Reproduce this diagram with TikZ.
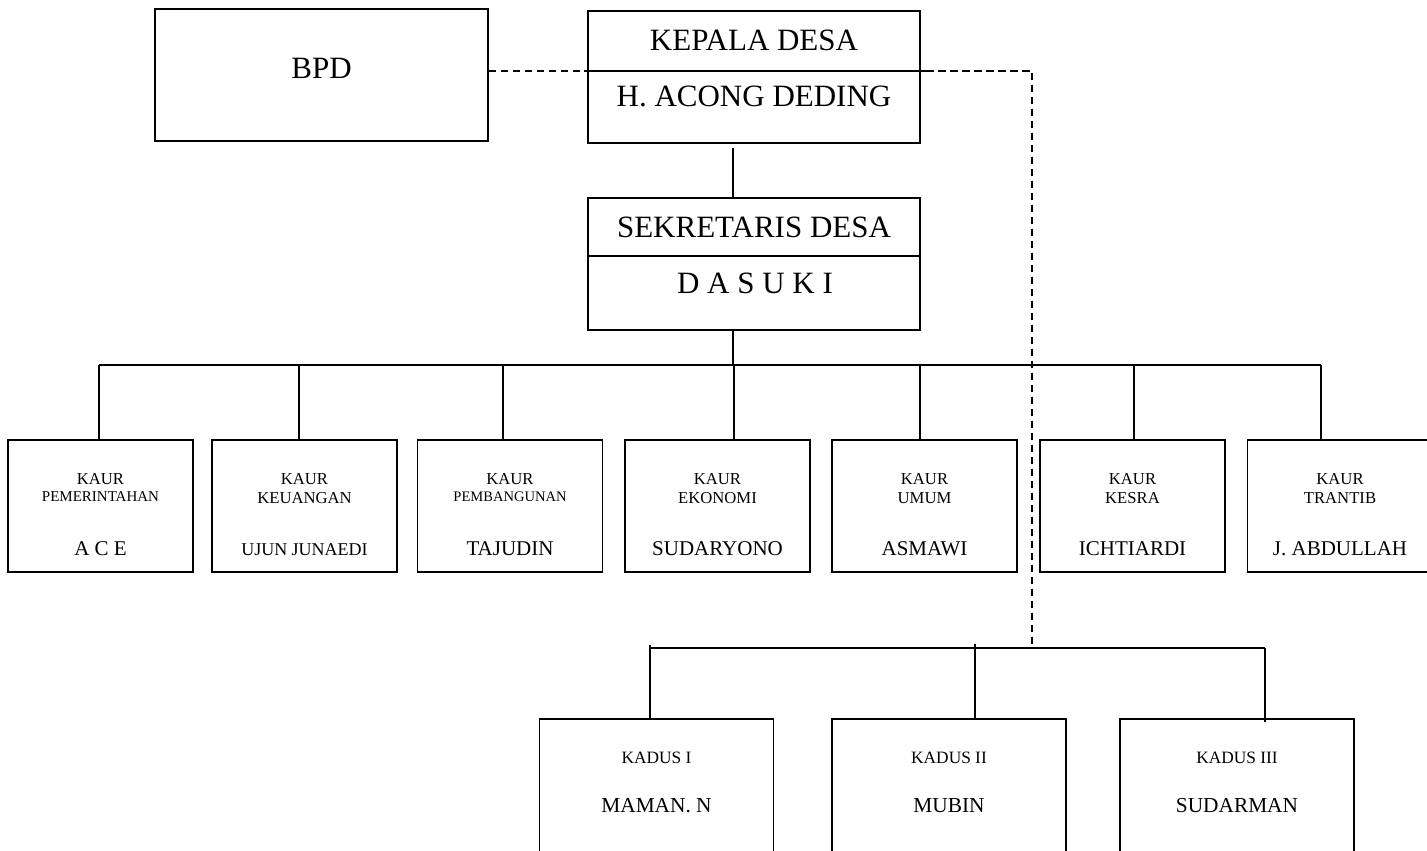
\documentclass[tikz,border=0pt]{standalone}
\usepackage{fontspec}
\setmainfont{Liberation Serif}
\newcommand{\setfs}[1]{\fontsize{#1pt}{#1pt}\selectfont}
\begin{document}
\begin{tikzpicture}[x=0.75pt,y=-0.75pt,
  box/.style={draw, line width=1.4pt, inner sep=0pt, minimum height=99pt},
  bigbox/.style={box, minimum width=249pt},
  kaurbox/.style={box, minimum width=138.75pt},
  kadusbox/.style={box, minimum width=175.5pt, minimum height=120pt},
  conn/.style={line width=1.2pt},
  thinconn/.style={line width=0.9pt},
  dline/.style={line width=1.3pt, dash pattern=on 5.5pt off 3.5pt},
  txt/.style={anchor=base, inner sep=0pt},
  big/.style={txt, font=\setfs{23.25}},
  role/.style={txt, font=\setfs{12.5}},
  rolesm/.style={txt, font=\setfs{11.25}},
  nm/.style={txt, font=\setfs{15.75}},
  nmsm/.style={txt, font=\setfs{13.5}},
  kd/.style={txt, font=\setfs{13}},
  kdn/.style={txt, font=\setfs{16}}]
\useasboundingbox (0,0) rectangle (1427,850);
\fill[white] (0,0) rectangle (1427,850);
\clip (0,0) rectangle (1427,850);

% top boxes
\node[box, minimum width=249.75pt] (bpd) at (321.5,75) {};
\node[bigbox] (kepala) at (754,77) {};
\node[bigbox] (sek) at (754,264) {};
\coordinate (kdiv) at (754,70.7);
\coordinate (sdiv) at (754,255.7);
\draw[line width=1.4pt] ([xshift=-2pt]kepala.west |- kdiv) -- ([xshift=4pt]kepala.east |- kdiv);
\draw[line width=1.4pt] (sek.west |- sdiv) -- (sek.east |- sdiv);

\node[big] (tbpd) at (321.5,78) {BPD};
\node[big] (tkep) at (754,50.7) {KEPALA DESA};
\node[big] (tkepn) at (754,106) {H. ACONG DEDING};
\node[big] (tsek) at (754,237) {SEKRETARIS DESA};
\node[big] (tsekn) at (755,293) {D A S U K I};

% kaur boxes
\node[kaurbox] (k1) at (100.5,506) {};
\node[kaurbox] (k2) at (304.5,506) {};
\node[kaurbox] (k3) at (510,506) {};
\node[kaurbox] (k4) at (717.5,506) {};
\node[kaurbox] (k5) at (924.5,506) {};
\node[kaurbox] (k6) at (1132.5,506) {};
\node[kaurbox] (k7) at (1340,506) {};

\node[role] (k1a) at (100.5,484) {KAUR};
\node[rolesm] (k1b) at (100.5,501) {PEMERINTAHAN};
\node[nm] (k1c) at (100.5,555) {A C E};
\node[role] (k2a) at (304.5,484) {KAUR};
\node[role] (k2b) at (304.5,503) {KEUANGAN};
\node[nmsm] (k2c) at (304.5,555) {UJUN JUNAEDI};
\node[role] (k3a) at (510,484) {KAUR};
\node[txt, font=\setfs{10.9}] (k3b) at (510,501) {PEMBANGUNAN};
\node[nm] (k3c) at (510,555) {TAJUDIN};
\node[role] (k4a) at (717.5,484) {KAUR};
\node[role] (k4b) at (717.5,503) {EKONOMI};
\node[nm] (k4c) at (717.5,555) {SUDARYONO};
\node[role] (k5a) at (924.5,484) {KAUR};
\node[role] (k5b) at (924.5,503) {UMUM};
\node[nm] (k5c) at (924.5,555) {ASMAWI};
\node[role] (k6a) at (1132.5,484) {KAUR};
\node[role] (k6b) at (1132.5,503) {KESRA};
\node[nm] (k6c) at (1132.5,555) {ICHTIARDI};
\node[role] (k7a) at (1340,484) {KAUR};
\node[role] (k7b) at (1340,503) {TRANTIB};
\node[nm] (k7c) at (1340,555) {J. ABDULLAH};

% kadus boxes
\node[kadusbox] (d1) at (656.5,799) {};
\node[kadusbox] (d2) at (949,799) {};
\node[kadusbox] (d3) at (1237,799) {};
\node[kd] (d1a) at (656.5,763) {KADUS I};
\node[kdn] (d1b) at (656.5,812) {MAMAN. N};
\node[kd] (d2a) at (949,763) {KADUS II};
\node[kdn] (d2b) at (949,812) {MUBIN};
\node[kd] (d3a) at (1237,763) {KADUS III};
\node[kdn] (d3b) at (1237,812) {SUDARMAN};

% solid connectors
\coordinate (bc) at (733,365);
\draw[conn] (bc |- kepala.south) ++(0,4) -- (bc |- sek.north);
\draw[conn] (bc |- sek.south) -- (bc);
\coordinate (b1) at (99,365);
\coordinate (b2) at (299,365);
\coordinate (b3) at (503,365);
\coordinate (b4) at (734,365);
\coordinate (b5) at (920,365);
\coordinate (b6) at (1134,365);
\coordinate (b7) at (1321,365);
\draw[conn] (b1) -- (b7);
\foreach \b/\k in {b1/k1,b2/k2,b3/k3,b4/k4,b5/k5,b6/k6,b7/k7}
  \draw[conn] (\b) -- (\b |- \k.north);

% kadus bus
\coordinate (c1) at (650,648);
\coordinate (c2) at (975,648);
\coordinate (c3) at (1265,648);
\draw[thinconn] (c1) -- (c3);
\draw[conn] ([yshift=2.25pt]c1) -- (c1 |- d1.north);
\draw[conn] ([yshift=3pt]c2) -- (c2 |- d2.north);
\draw[conn] (c3) -- ([yshift=-3pt]c3 |- d3.north);

% dashed lines
\coordinate (dc) at (1032,70.7);
\coordinate (dend) at (1032,648);
\draw[dline] (bpd.east |- kdiv) -- (kepala.west |- kdiv);
\draw[dline] ([xshift=4pt]kepala.east |- kdiv) -- (dc) -- (dend);
\end{tikzpicture}
\end{document}
